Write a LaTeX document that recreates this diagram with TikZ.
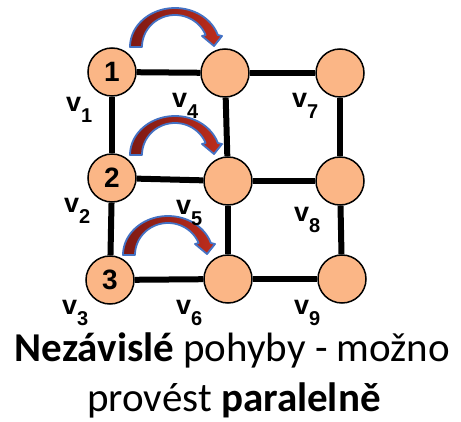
\documentclass[tikz,border=0pt]{standalone}
\usepackage{fontspec}
\setmainfont{Carlito}
\newfontfamily\arialf{Liberation Sans}
\definecolor{nodefill}{RGB}{251,182,134}
\definecolor{arrowdark}{RGB}{125,25,20}
\definecolor{arrowlight}{RGB}{190,45,28}
\definecolor{arrowedge}{RGB}{68,114,196}
\tikzset{
  vert/.style={circle,draw=black,line width=1.5pt,fill=nodefill,minimum size=48pt,inner sep=0pt,
    font=\arialf\bfseries\fontsize{28}{28}\selectfont},
  gridedge/.style={line width=6pt,black},
  vlab/.style={anchor=base west,inner sep=0pt,font=\arialf\bfseries\fontsize{27}{27}\selectfont},
  jump/.style={left color=arrowdark,right color=arrowlight,draw=arrowedge,line width=1.8pt,line join=round},
  caption/.style={anchor=base,inner sep=0pt,font=\fontsize{41}{41}\selectfont}
}
\newcommand\jumparrow[2]{%
  \begin{scope}[shift={(#1,#2)}]
    \path[jump] plot[domain=180:342,samples=40,variable=\t] ({45+45*cos(\t)},{39*sin(\t)})
      -- (92,-11) -- (84,-1) -- (72,-11)
      -- plot[domain=338:180,samples=40,variable=\t] ({45+33*cos(\t)},{32*sin(\t)}) -- cycle;
  \end{scope}}
\newcommand\sub[1]{\raisebox{-11pt}{\fontsize{20}{20}\selectfont #1}}
\begin{document}
\begin{tikzpicture}[x=1pt,y=-1pt]
\useasboundingbox (0,0) rectangle (461,422);
\node[vert] (n1) at (112,72) {1};
\node[vert] (n4) at (225,73) {};
\node[vert] (n7) at (340,73) {};
\node[vert] (n2) at (112,178) {2};
\node[vert] (n5) at (228,181) {};
\node[vert] (n8) at (340,181) {};
\node[vert] (n3) at (110,280) {3};
\node[vert] (n6) at (228,279) {};
\node[vert] (n9) at (342,279) {};
\draw[gridedge] (n1) -- (n4);
\draw[gridedge] (n4) -- (n7);
\draw[gridedge] (n2) -- (n5);
\draw[gridedge] (n5) -- (n8);
\draw[gridedge] (n3) -- (n6);
\draw[gridedge] (n6) -- (n9);
\draw[gridedge] (n1) -- (n2);
\draw[gridedge] (n2) -- (n3);
\draw[gridedge] (n4) -- (n5);
\draw[gridedge] (n5) -- (n6);
\draw[gridedge] (n7) -- (n8);
\draw[gridedge] (n8) -- (n9);
\jumparrow{130}{47}
\jumparrow{130}{155}
\jumparrow{123}{255}
\node[vlab] (l1) at (66,112) {v\sub{1}};
\node[vlab] (l2) at (64,213) {v\sub{2}};
\node[vlab] (l3) at (62,315) {v\sub{3}};
\node[vlab] (l4) at (172,108) {v\sub{4}};
\node[vlab] (l5) at (176,215) {v\sub{5}};
\node[vlab] (l6) at (176,315) {v\sub{6}};
\node[vlab] (l7) at (292,108) {v\sub{7}};
\node[vlab] (l8) at (294,222) {v\sub{8}};
\node[vlab] (l9) at (294,315) {v\sub{9}};
\node[caption] (t1) at (232.5,362) {\textbf{Nezávislé} pohyby - možno};
\node[caption] (t2) at (234,411) {provést \textbf{paralelně}};
\end{tikzpicture}
\end{document}
